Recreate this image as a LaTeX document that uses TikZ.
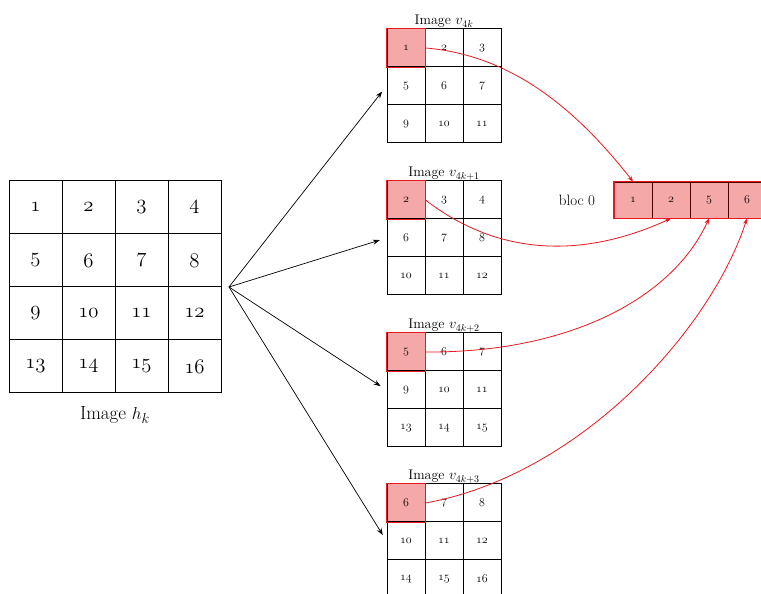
\documentclass[tikz,border=0pt]{standalone}
\usetikzlibrary{arrows.meta}
\definecolor{hlfill}{RGB}{245,168,168}
\definecolor{hlred}{RGB}{232,24,30}
\newcommand\osn[1]{$\mathnormal{#1}$}
\begin{document}
\begin{tikzpicture}[x=1pt,y=1pt,
  bigcell/.style={draw, line width=1pt, minimum width=53pt, minimum height=53pt, inner sep=0pt, font=\fontsize{20}{22}\selectfont},
  smallcell/.style={draw, line width=1pt, minimum width=38pt, minimum height=38pt, inner sep=0pt, font=\fontsize{13}{15}\selectfont},
  hlcell/.style={fill=hlfill},
  hlborder/.style={draw=hlred, line width=1.6pt},
  bcell/.style={draw=black!70!red, line width=0.8pt, fill=hlfill, minimum width=38pt, minimum height=36pt, inner sep=0pt, font=\fontsize{13}{15}\selectfont},
  titlelab/.style={font=\fontsize{14}{16}\selectfont, inner sep=0pt},
  fan/.style={-{Stealth[length=7pt,width=5pt]}, line width=0.7pt, shorten >=7pt},
  mapline/.style={hlred, line width=0.8pt, -{Stealth[length=6pt,width=4.5pt]}},
]
\useasboundingbox (0,0) rectangle (761,594);
\clip (0,0) rectangle (761,594);

% big grid
\foreach \r in {0,...,3} \foreach \c in {0,...,3} {
  \pgfmathtruncatemacro\n{1+\c+4*\r}
  \node[bigcell] (h\n) at ({35.5+53*\c},{386.5-53*\r}) {\osn{\n}};
}
\node[font=\fontsize{19}{22}\selectfont, inner sep=0pt] (hlab) at (115,179) {Image $h_k$};
\coordinate (O) at (229,307);

% small grids
\foreach \k/\tp/\s/\sub in {1/565/1/{4k}, 2/413/2/{4k+1}, 3/261/5/{4k+2}, 4/110/6/{4k+3}} {
  \node[titlelab, anchor=base] (t\k) at (444,\tp+4) {Image $v_{\sub}$};
  \foreach \r in {0,1,2} \foreach \c in {0,1,2} {
    \pgfmathtruncatemacro\n{\s+\c+4*\r}
    \pgfmathtruncatemacro\i{1+\c+3*\r}
    \ifnum\i=1 \def\st{hlcell}\else\def\st{}\fi
    \node[smallcell,\st] (g\k-\i) at ({406+38*\c},{\tp-19-38*\r}) {\osn{\n}};
  }
  \draw[hlborder] (g\k-1.south west) rectangle (g\k-1.north east);
  \draw[fan] (O) -- (g\k-4.west);
}

% bloc
\node[font=\fontsize{15}{17}\selectfont, inner sep=0pt] (bl) at (577,394) {bloc 0};
\foreach \j/\x/\v in {1/633/1, 2/671/2, 3/709/5, 4/747/6}
  \node[bcell] (b\j) at (\x,394) {\osn{\v}};
\draw[draw=hlred, line width=1.2pt] (b1.south west) rectangle (b4.north east);
\draw[draw=hlred, line width=1.8pt] (b1.south west) -- (b1.north west);

% mapping curves
\draw[mapline] (g1-1.east) .. controls +(85,-7) and +(-58,74) .. (b1.north);
\draw[mapline] (g2-1.east) .. controls +(75,-58) and +(-85,-39) .. (b2.south);
\draw[mapline] (g3-1.east) .. controls +(145,-1) and +(-36,-79) .. (b3.south);
\draw[mapline] (g4-1.east) .. controls +(155,28) and +(-36,-111) .. (b4.south);
\end{tikzpicture}
\end{document}
